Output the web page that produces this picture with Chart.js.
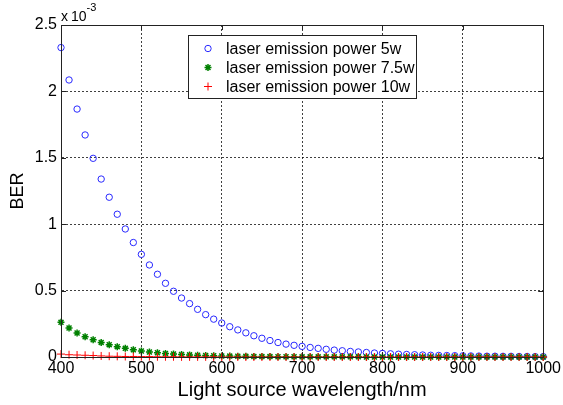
<!DOCTYPE html>
<html>
<head>
<meta charset="utf-8">
<script src="https://cdn.jsdelivr.net/npm/chart.js@4/dist/chart.umd.min.js"></script>
<style>
  html, body { margin: 0; padding: 0; background: #fff; }
  canvas { display: block; }
</style>
</head>
<body>
<canvas id="ber" width="563" height="405"></canvas>
<script>
// BER values are in units of 1e-3 (see the "x 10^-3" axis multiplier)
const wavelengths = [
  400, 410, 420, 430, 440, 450, 460, 470, 480, 490,
  500, 510, 520, 530, 540, 550, 560, 570, 580, 590,
  600, 610, 620, 630, 640, 650, 660, 670, 680, 690,
  700, 710, 720, 730, 740, 750, 760, 770, 780, 790,
  800, 810, 820, 830, 840, 850, 860, 870, 880, 890,
  900, 910, 920, 930, 940, 950, 960, 970, 980, 990, 1000
];

const power5w = [
  2.330, 2.086, 1.867, 1.672, 1.496, 1.340, 1.203, 1.075, 0.964, 0.862,
  0.773, 0.693, 0.623, 0.555, 0.495, 0.444, 0.402, 0.359, 0.319, 0.285,
  0.256, 0.228, 0.204, 0.182, 0.160, 0.141, 0.124, 0.109, 0.097, 0.088,
  0.080, 0.072, 0.065, 0.058, 0.052, 0.047, 0.042, 0.038, 0.034, 0.030,
  0.027, 0.024, 0.021, 0.019, 0.017, 0.015, 0.013, 0.012, 0.011, 0.010,
  0.009, 0.008, 0.007, 0.006, 0.006, 0.005, 0.005, 0.004, 0.004, 0.003, 0.003
];

const power7_5w = [
  0.261, 0.218, 0.181, 0.153, 0.130, 0.110, 0.093, 0.078, 0.065, 0.055,
  0.045, 0.038, 0.032, 0.027, 0.023, 0.019, 0.016, 0.013, 0.011, 0.009,
  0.008, 0.007, 0.006, 0.005, 0.004, 0.003, 0.003, 0.002, 0.002, 0.002,
  0.001, 0.001, 0.001, 0.001, 0.001, 0.001, 0.001, 0.001, 0.000, 0.000,
  0.000, 0.000, 0.000, 0.000, 0.000, 0.000, 0.000, 0.000, 0.000, 0.000,
  0.000, 0.000, 0.000, 0.000, 0.000, 0.000, 0.000, 0.000, 0.000, 0.000, 0.000
];

const power10w = [
  0.022, 0.017, 0.015, 0.013, 0.011, 0.008, 0.006, 0.005, 0.004, 0.004,
  0.003, 0.003, 0.002, 0.002, 0.002, 0.001, 0.001, 0.001, 0.001, 0.001,
  0.000, 0.000, 0.000, 0.000, 0.000, 0.000, 0.000, 0.000, 0.000, 0.000,
  0.000, 0.000, 0.000, 0.000, 0.000, 0.000, 0.000, 0.000, 0.000, 0.000,
  0.000, 0.000, 0.000, 0.000, 0.000, 0.000, 0.000, 0.000, 0.000, 0.000,
  0.000, 0.000, 0.000, 0.000, 0.000, 0.000, 0.000, 0.000, 0.000, 0.000, 0.000
];

const seriesLabels = [
  'laser emission power 5w',
  'laser emission power 7.5w',
  'laser emission power 10w'
];

const FONT = "'Liberation Sans', Arial, sans-serif";

const toPoints = (vals) => vals.map((v, i) => ({ x: wavelengths[i], y: v }));

// small marker painter for the legend box
function drawMarker(ctx, style, x, y, r, color, width) {
  ctx.save();
  ctx.strokeStyle = color;
  ctx.lineWidth = width;
  ctx.beginPath();
  if (style === 'circle') {
    ctx.arc(x, y, r, 0, Math.PI * 2);
  } else {
    ctx.moveTo(x - r, y); ctx.lineTo(x + r, y);
    ctx.moveTo(x, y - r); ctx.lineTo(x, y + r);
    if (style === 'star') {
      const d = r * Math.SQRT1_2;
      ctx.moveTo(x - d, y - d); ctx.lineTo(x + d, y + d);
      ctx.moveTo(x - d, y + d); ctx.lineTo(x + d, y - d);
    }
  }
  ctx.stroke();
  ctx.restore();
}

// box frame, inward ticks, exponent label and legend
const matlabFrame = {
  id: 'matlabFrame',
  afterDraw(chart) {
    const { ctx, chartArea: a, scales: { x, y } } = chart;
    ctx.save();
    ctx.strokeStyle = '#222';
    ctx.lineWidth = 1;
    ctx.strokeRect(Math.round(a.left) + 0.5, Math.round(a.top) + 0.5,
      Math.round(a.right - a.left), Math.round(a.bottom - a.top));

    const tl = 5;
    ctx.beginPath();
    x.ticks.forEach(t => {
      const px = Math.round(x.getPixelForValue(t.value)) + 0.5;
      ctx.moveTo(px, a.bottom); ctx.lineTo(px, a.bottom - tl);
      ctx.moveTo(px, a.top); ctx.lineTo(px, a.top + tl);
    });
    y.ticks.forEach(t => {
      const py = Math.round(y.getPixelForValue(t.value)) + 0.5;
      ctx.moveTo(a.left, py); ctx.lineTo(a.left + tl, py);
      ctx.moveTo(a.right, py); ctx.lineTo(a.right - tl, py);
    });
    ctx.stroke();

    // axis multiplier x 10^-3
    ctx.fillStyle = '#000';
    ctx.textBaseline = 'alphabetic';
    ctx.textAlign = 'left';
    ctx.font = '14px ' + FONT;
    ctx.fillText('x', a.left, 21);
    ctx.fillText('10', a.left + 10, 21);
    ctx.font = '11px ' + FONT;
    ctx.fillText('-3', a.left + 25.5, 11);

    // legend
    const lx = 188.5, ly = 35.5, lw = 228, lh = 63;
    ctx.fillStyle = '#fff';
    ctx.fillRect(lx, ly, lw, lh);
    ctx.strokeStyle = '#222';
    ctx.strokeRect(lx, ly, lw, lh);
    ctx.font = '16px ' + FONT;
    ctx.textBaseline = 'middle';
    ctx.fillStyle = '#000';
    const rows = [48.5, 67.5, 86.5];
    chart.data.datasets.forEach((ds, i) => {
      drawMarker(ctx, ds.pointStyle, 208, rows[i], ds.pointRadius, ds.borderColor, ds.pointBorderWidth);
      ctx.fillText(ds.label, 226, rows[i] + 1);
    });
    ctx.restore();
  }
};

new Chart(document.getElementById('ber'), {
  type: 'scatter',
  data: {
    datasets: [
      {
        label: seriesLabels[0],
        data: toPoints(power5w),
        pointStyle: 'circle',
        pointRadius: 3.2,
        pointBorderWidth: 1,
        borderColor: 'rgb(40,40,255)',
        backgroundColor: 'rgba(0,0,0,0)',
        order: 3,
        clip: false
      },
      {
        label: seriesLabels[1],
        data: toPoints(power7_5w),
        pointStyle: 'star',
        pointRadius: 3.5,
        pointBorderWidth: 1.5,
        borderColor: 'rgb(0,128,0)',
        backgroundColor: 'rgb(0,128,0)',
        order: 2,
        clip: false
      },
      {
        label: seriesLabels[2],
        data: toPoints(power10w),
        pointStyle: 'cross',
        pointRadius: 4,
        pointBorderWidth: 1,
        borderColor: 'rgb(255,0,0)',
        backgroundColor: 'rgb(255,0,0)',
        order: 1,
        clip: false
      }
    ]
  },
  options: {
    responsive: false,
    animation: false,
    devicePixelRatio: 1,
    layout: { padding: { top: 25, right: 18, left: 0, bottom: 0 } },
    plugins: {
      legend: { display: false },
      tooltip: { enabled: false }
    },
    scales: {
      x: {
        type: 'linear',
        min: 400,
        max: 1000,
        ticks: {
          stepSize: 100, autoSkip: false, color: '#000', padding: 2, maxRotation: 0,
          font: { family: FONT, size: 16 },
          callback: (v) => String(v)
        },
        grid: { color: 'rgba(0,0,0,0.75)', drawTicks: false, lineWidth: 1 },
        border: { display: true, color: '#222', dash: [2, 2] },
        title: {
          display: true,
          text: 'Light source wavelength/nm',
          color: '#000',
          font: { family: FONT, size: 20 },
          padding: { top: 0, bottom: 3 }
        },
        afterFit: (s) => { s.height = 48; }
      },
      y: {
        min: 0,
        max: 2.5,
        ticks: {
          stepSize: 0.5, autoSkip: false, color: '#000', padding: 4,
          font: { family: FONT, size: 16 },
          callback: (v) => String(v)
        },
        grid: { color: 'rgba(0,0,0,0.75)', drawTicks: false, lineWidth: 1 },
        border: { display: true, color: '#222', dash: [2, 2] },
        title: {
          display: true,
          text: 'BER',
          color: '#000',
          font: { family: FONT, size: 18 },
          padding: { top: 7, bottom: 0 }
        },
        afterFit: (s) => { s.width = 61; }
      }
    }
  },
  plugins: [matlabFrame]
});
</script>
</body>
</html>
